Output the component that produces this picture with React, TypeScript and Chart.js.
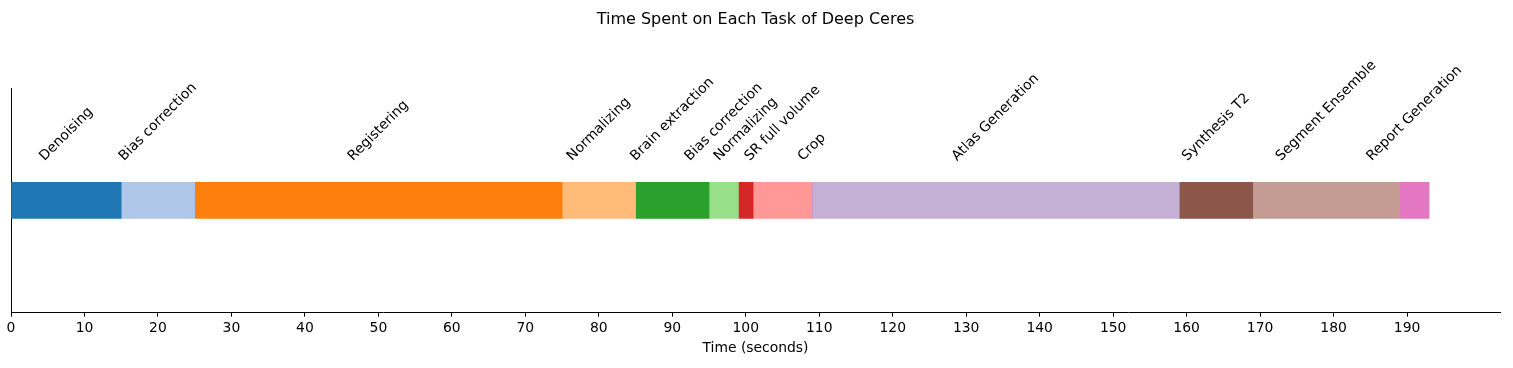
import React, { useEffect, useRef } from "react";
import { Chart, registerables } from "chart.js";

Chart.register(...registerables);

const tasks = [
  "Denoising",
  "Bias correction",
  "Registering",
  "Normalizing",
  "Brain extraction",
  "Bias correction",
  "Normalizing",
  "SR full volume",
  "Crop",
  "Atlas Generation",
  "Synthesis T2",
  "Segment Ensemble",
  "Report Generation",
];
const durations = [15, 10, 50, 10, 10, 4, 2, 8, 0, 50, 10, 20, 4];
const colors = [
  "#1f77b4",
  "#aec7e8",
  "#ff7f0e",
  "#ffbb78",
  "#2ca02c",
  "#98df8a",
  "#d62728",
  "#ff9896",
  "#9467bd",
  "#c5b0d5",
  "#8c564b",
  "#c49c94",
  "#e377c2",
];
const tickValues = [0, 10, 20, 30, 40, 50, 60, 70, 80, 90, 100, 110, 120, 130, 140, 150, 160, 170, 180, 190];
const xMax = 202.65;
const titleText = "Time Spent on Each Task of Deep Ceres";
const xTitle = "Time (seconds)";

const FONT = "'DejaVu Sans', sans-serif";
const FS = 13.9;

const labelPlugin = {
  id: "taskLabels",
  afterDatasetsDraw(chart: any) {
    const ctx = chart.ctx;
    const h = 16;
    const gap = 18;
    chart.data.datasets.forEach((ds: any, i: number) => {
      const el = chart.getDatasetMeta(i).data[0];
      if (!el) return;
      const p = el.getProps(["x", "y", "base", "height"], true);
      const cx = (p.x + p.base) / 2;
      const top = p.y - p.height / 2;
      ctx.save();
      ctx.font = `${FS}px ${FONT}`;
      const w = ctx.measureText(ds.label).width;
      const half = ((w + h) * Math.SQRT1_2) / 2;
      const cy = top - gap - half;
      ctx.translate(cx, cy);
      ctx.rotate(-Math.PI / 4);
      ctx.fillStyle = "#000";
      ctx.textAlign = "center";
      ctx.textBaseline = "middle";
      ctx.fillText(ds.label, 0, 0);
      ctx.restore();
    });
  },
};

export default function App() {
  const ref = useRef<HTMLCanvasElement | null>(null);
  useEffect(() => {
    document.body.style.margin = "0";
    if (!ref.current) return;
    const chart = new Chart(ref.current, {
      type: "bar",
      data: {
        labels: [""],
        datasets: tasks.map((t, i) => ({
          label: t,
          data: [durations[i]],
          backgroundColor: colors[i],
          borderWidth: 0,
          barThickness: 36,
        })),
      },
      options: {
        indexAxis: "y",
        responsive: false,
        animation: false,
        layout: { padding: { left: 11, right: 13, top: 0, bottom: 11 } },
        plugins: {
          legend: { display: false },
          tooltip: { enabled: false },
          title: {
            display: true,
            text: titleText,
            color: "#000",
            font: { family: FONT, size: 16, weight: "normal" },
            padding: { top: 10.5, bottom: 58.3 },
          },
        },
        scales: {
          x: {
            type: "linear",
            stacked: true,
            min: 0,
            max: xMax,
            afterBuildTicks: (s: any) => {
              s.ticks = tickValues.map((v) => ({ value: v }));
            },
            ticks: {
              color: "#000",
              font: { family: FONT, size: FS },
              padding: 3,
              maxRotation: 0,
              autoSkip: false,
            },
            grid: {
              display: true,
              drawOnChartArea: false,
              drawTicks: true,
              tickLength: 4,
              tickColor: "#000",
              tickWidth: 1,
            },
            border: { display: true, color: "#000", width: 1 },
            title: {
              display: true,
              text: xTitle,
              color: "#000",
              font: { family: FONT, size: FS },
              padding: { top: 1, bottom: 0 },
            },
          },
          y: {
            stacked: true,
            ticks: { display: false },
            grid: { display: false, drawTicks: false },
            border: { display: true, color: "#000", width: 1 },
          },
        },
      },
      plugins: [labelPlugin],
    } as any);
    return () => chart.destroy();
  }, []);
  return <canvas ref={ref} width={1513} height={368} style={{ display: "block" }} />;
}
